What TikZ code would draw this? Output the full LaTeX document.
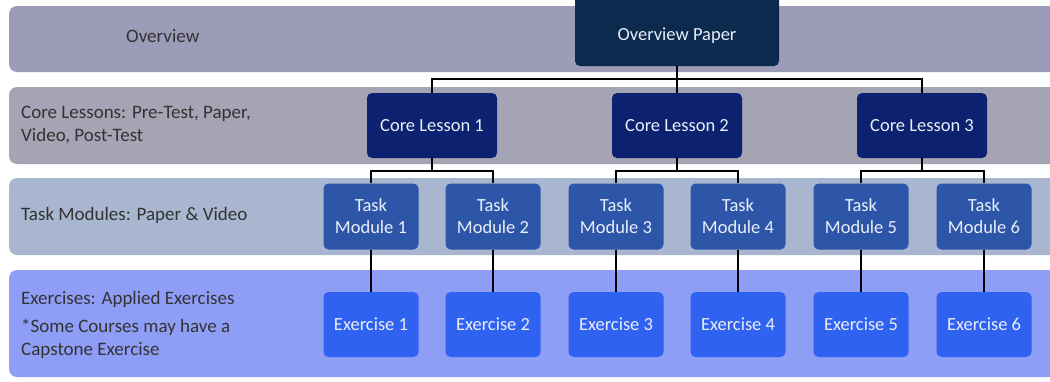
\documentclass[tikz,border=0pt]{standalone}
\usepackage{fontspec}
\setmainfont{Carlito}
\usepackage{tikz}

\definecolor{bandA}{HTML}{9C9BB8}
\definecolor{bandB}{HTML}{A5A4B5}
\definecolor{bandC}{HTML}{A9B6CF}
\definecolor{bandD}{HTML}{8E9EF6}
\definecolor{paperblue}{HTML}{0B2A4E}
\definecolor{lessonblue}{HTML}{0C2270}
\definecolor{taskblue}{HTML}{2E56A8}
\definecolor{exblue}{HTML}{2F62F0}
\definecolor{boxtext}{HTML}{E9EEF8}
\definecolor{labeltext}{HTML}{333333}

\tikzset{
  band/.style={rounded corners=8pt},
  bandlabel/.style={text=labeltext, font=\fontsize{19}{23}\selectfont, anchor=west, align=left, inner sep=0pt},
  boxbase/.style={rounded corners=5pt, text=boxtext, font=\fontsize{18.5}{22}\selectfont, align=center, inner sep=0pt},
  paperbox/.style={boxbase, fill=paperblue, minimum width=204pt, minimum height=76pt, text height=30pt, text depth=5pt},
  lessonbox/.style={boxbase, fill=lessonblue, minimum width=130pt, minimum height=65pt},
  taskbox/.style={boxbase, fill=taskblue, minimum width=95pt, minimum height=66pt},
  exbox/.style={boxbase, fill=exblue, minimum width=95pt, minimum height=65pt},
  link/.style={draw=black, line width=1.8pt}
}

\begin{document}
\begin{tikzpicture}[x=1pt, y=-1pt]
\useasboundingbox (0,0) rectangle (1050,381);
\fill[white] (0,0) rectangle (1050,381);
\clip (0,0) rectangle (1050,381);
% Franjas
\fill[band, bandA] (9,6) rectangle (1070,72);
\fill[band, bandB] (9,87) rectangle (1070,164);
\fill[band, bandC] (9,178) rectangle (1070,255);
\fill[band, bandD] (9,270) rectangle (1070,377);
% Etiquetas
\node[bandlabel] (lbA) at (126,36) {Overview};
\node[bandlabel] (lbB) at (21,125) {Core Lessons: Pre-Test, Paper,\\Video, Post-Test};
\node[bandlabel] (lbC) at (21,215) {Task Modules: Paper \& Video};
\node[bandlabel] (lbD1) at (21,299) {Exercises: Applied Exercises};
\node[bandlabel] (lbD2) at (21,339) {*Some Courses may have a\\Capstone Exercise};
% Overview Paper (cortado arriba)
\node[paperbox] (op) at (677,28) {Overview Paper};
% Core Lessons
\node[lessonbox] (cl1) at (432,125.5) {Core Lesson 1};
\node[lessonbox] (cl2) at (677,125.5) {Core Lesson 2};
\node[lessonbox] (cl3) at (922,125.5) {Core Lesson 3};
% Task Modules y Exercises
\foreach \i/\x in {1/371,2/493,3/616,4/738,5/861,6/984}{
  \node[taskbox] (tm\i) at (\x,216.5) {Task\\Module \i};
  \node[exbox] (ex\i) at (\x,324.5) {Exercise \i};
  \draw[link] (tm\i.south) -- (ex\i.north);
}
% Conexiones
\coordinate (j0) at (677,79);
\draw[link] (op.south) -- (j0);
\draw[link] (cl1.north) |- (j0) -| (cl3.north);
\draw[link] (j0) -- (cl2.north);
\coordinate (j1) at (432,171);
\coordinate (j2) at (677,171);
\coordinate (j3) at (922,171);
\draw[link] (cl1.south) -- (j1);
\draw[link] (cl2.south) -- (j2);
\draw[link] (cl3.south) -- (j3);
\draw[link] (tm1.north) |- (j1) -| (tm2.north);
\draw[link] (tm3.north) |- (j2) -| (tm4.north);
\draw[link] (tm5.north) |- (j3) -| (tm6.north);
\end{tikzpicture}
\end{document}
